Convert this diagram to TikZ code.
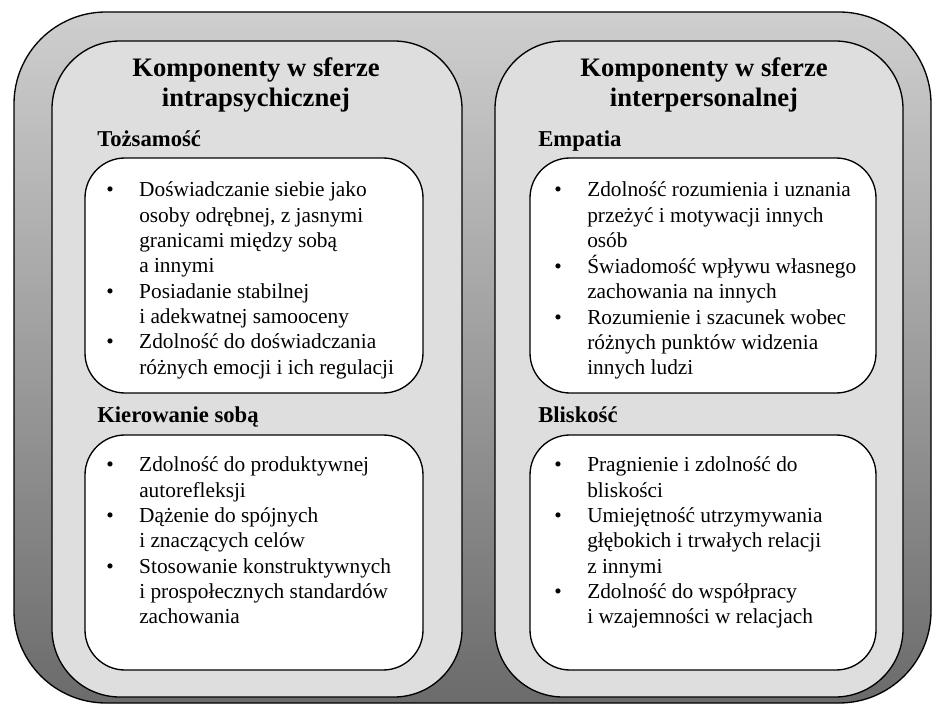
\documentclass[tikz,border=0pt]{standalone}
\usepackage{fontspec}
\setmainfont{Liberation Serif}
\usetikzlibrary{
    positioning,
    fit
}

% bullet and indent for the lists
\newcommand\punkt{\makebox[24.75pt][l]{\textbullet}}
\newcommand\wciecie{\hspace*{24.75pt}}

\begin{document}
\begin{tikzpicture}[
    x=0.75pt, y=-0.75pt,
    % frames
    frame/.style={
        draw=black,
        line width=1pt,
        rounded corners=69pt,
        top color=black!19,
        middle color=black!19,
        bottom color=black!58,
        inner sep=0pt
    },
    panel/.style={
        draw=black,
        line width=1pt,
        rounded corners=51pt,
        fill=black!13,
        inner sep=0pt
    },
    listbox/.style={
        draw=black,
        line width=1pt,
        rounded corners=30pt,
        fill=white,
        inner sep=0pt
    },
    % texts
    sphere/.style={
        font=\fontsize{20}{22.5}\selectfont\bfseries,
        align=center,
        anchor=base,
        inner sep=0pt
    },
    heading/.style={
        font=\fontsize{17}{20}\selectfont\bfseries,
        anchor=base west,
        inner sep=0pt
    },
    items/.style={
        font=\fontsize{16}{19}\selectfont,
        anchor=base west,
        inner sep=0pt
    }
]
    \useasboundingbox (0,0) rectangle (935,705);

    % Outer frame and the two spheres
    \node[frame, fit={(14,12) (931,703)}] (outerframe) {};
    \node[panel, fit={(52,41) (462,697)}] (leftpanel) {};
    \node[panel, fit={(495,41) (903,697)}] (rightpanel) {};

    % White boxes
    \node[listbox, fit={(85,158) (423,393)}] (tozbox) {};
    \node[listbox, fit={(85,435) (423,670)}] (kierbox) {};
    \node[listbox, fit={(530,158) (876,393)}] (empbox) {};
    \node[listbox, fit={(530,435) (876,670)}] (blisbox) {};

    % Sphere titles (base = last line)
    \node[sphere] (intratitle) at (256,107)
        {Komponenty w sferze\\intrapsychicznej};
    \node[sphere] (intertitle) at (704,107)
        {Komponenty w sferze\\interpersonalnej};

    % Headings
    \node[heading] (toz) at (97,147) {Tożsamość};
    \node[heading] (kier) at (97,423) {Kierowanie sobą};
    \node[heading] (emp) at (538,147) {Empatia};
    \node[heading] (blis) at (538,423) {Bliskość};

    % Lists
    \node[items] (tozlist) at (106,197) {%
        \begin{tabular}[t]{@{}l@{}}
        \punkt Doświadczanie siebie jako\\
        \wciecie osoby odrębnej, z jasnymi\\
        \wciecie granicami między sobą\\
        \wciecie a innymi\\
        \punkt Posiadanie stabilnej\\
        \wciecie i adekwatnej samooceny\\
        \punkt Zdolność do doświadczania\\
        \wciecie różnych emocji i ich regulacji
        \end{tabular}};
    \node[items] (kierlist) at (106,472) {%
        \begin{tabular}[t]{@{}l@{}}
        \punkt Zdolność do produktywnej\\
        \wciecie autorefleksji\\
        \punkt Dążenie do spójnych\\
        \wciecie i znaczących celów\\
        \punkt Stosowanie konstruktywnych\\
        \wciecie i prospołecznych standardów\\
        \wciecie zachowania
        \end{tabular}};
    \node[items] (emplist) at (554,197) {%
        \begin{tabular}[t]{@{}l@{}}
        \punkt Zdolność rozumienia i uznania\\
        \wciecie przeżyć i motywacji innych\\
        \wciecie osób\\
        \punkt Świadomość wpływu własnego\\
        \wciecie zachowania na innych\\
        \punkt Rozumienie i szacunek wobec\\
        \wciecie różnych punktów widzenia\\
        \wciecie innych ludzi
        \end{tabular}};
    \node[items] (blislist) at (554,472) {%
        \begin{tabular}[t]{@{}l@{}}
        \punkt Pragnienie i zdolność do\\
        \wciecie bliskości\\
        \punkt Umiejętność utrzymywania\\
        \wciecie głębokich i trwałych relacji\\
        \wciecie z innymi\\
        \punkt Zdolność do współpracy\\
        \wciecie i wzajemności w relacjach
        \end{tabular}};
\end{tikzpicture}
\end{document}
